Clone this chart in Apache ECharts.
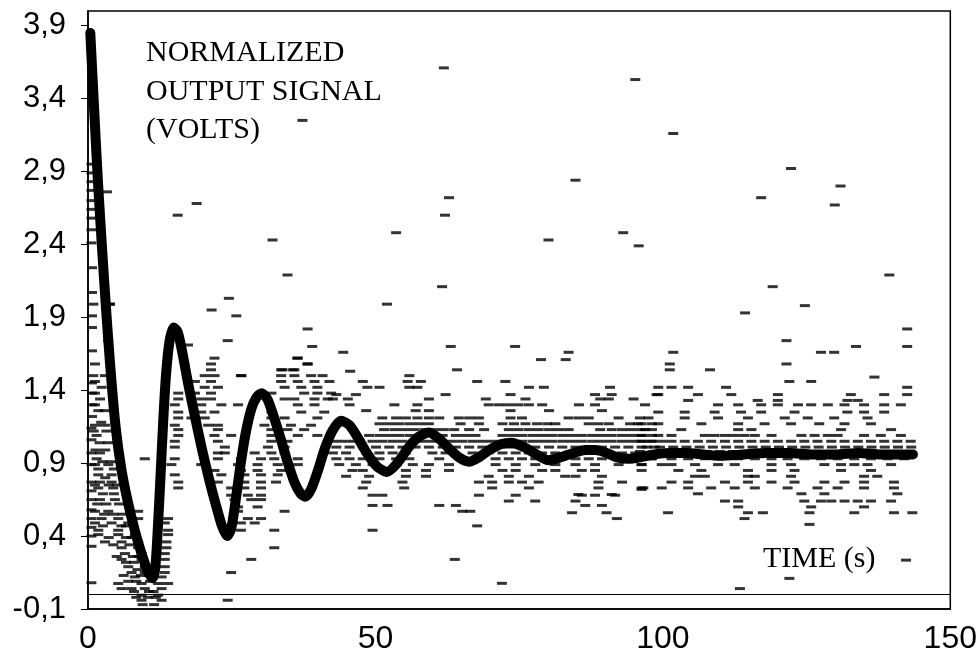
<!DOCTYPE html>
<html><head><meta charset="utf-8">
<script src="https://cdn.jsdelivr.net/npm/echarts@6/dist/echarts.min.js"></script>
<style>html,body{margin:0;padding:0;background:#fff}#c{width:980px;height:658px}</style>
</head><body><div id="c"></div>
<script>
// ---- tick labels ----
const yTicks = [-0.1, 0.4, 0.9, 1.4, 1.9, 2.4, 2.9, 3.4, 3.9];
const xTicks = [0, 50, 100, 150];

// ---- fitted (thick) response curve [time s, volts] ----
const signalCurve = [
 [0.4,3.85],[1.0,3.38],[1.7,2.85],[2.4,2.4],[3.1,1.98],[3.9,1.55],[4.8,1.15],[5.8,0.86],[6.9,0.64],[8.2,0.43],
 [9.4,0.27],[10.4,0.16],[11.2,0.11],[11.7,0.18],[12.1,0.42],[12.6,0.8],[13.1,1.2],[13.6,1.52],[14.2,1.74],[14.9,1.83],
 [15.6,1.8],[16.4,1.66],[17.4,1.45],[18.6,1.22],[19.8,1.0],[21.0,0.8],[22.2,0.62],[23.3,0.47],[24.2,0.40],[24.9,0.45],
 [25.6,0.62],[26.5,0.88],[27.4,1.1],[28.4,1.27],[29.3,1.35],[30.2,1.38],[31.2,1.34],[32.3,1.22],[33.5,1.07],[34.7,0.91],
 [35.9,0.77],[37.0,0.69],[37.8,0.67],[38.8,0.72],[40.0,0.85],[41.2,1.0],[42.5,1.12],[44.0,1.19],[45.5,1.16],[47.0,1.07],
 [48.5,0.97],[50.2,0.88],[52.0,0.84],[53.8,0.9],[55.8,1.01],[57.5,1.08],[59.3,1.11],[61.0,1.07],[62.8,1.0],[64.5,0.94],
 [66.3,0.91],[68.0,0.94],[69.8,0.99],[71.8,1.03],[73.7,1.04],[75.8,1.01],[78.0,0.96],[80.1,0.92],[82.2,0.94],[84.5,0.97],
 [86.5,0.99],[88.3,0.99],[90.2,0.97],[92.0,0.94],[94.0,0.93],[96.0,0.94],[98.5,0.96],[101,0.97],[104,0.97],[107,0.96],
 [110,0.95],[114,0.96],[118,0.97],[122,0.97],[126,0.96],[130,0.96],[134,0.97],[138,0.96],[143.5,0.96]
];

// ---- measured samples (dashes) ----
const leftColumnSamples = [
 [0.6,2.95],[0.6,2.89],[0.6,2.83],[0.6,2.77],[0.6,2.70],[0.6,2.64],[0.6,2.58],[0.6,2.50],[0.6,2.41],[0.7,2.24],
 [0.7,2.07],[0.7,1.91],[0.7,1.83],[0.7,1.67],[0.7,1.45],[0.7,1.38],[0.7,1.30],[0.7,1.22],[0.6,1.14],[0.6,1.06],
 [0.6,0.97],[0.6,0.89],[0.6,0.77],[0.6,0.71],[0.6,0.65],[0.6,0.58],[0.6,0.52],[0.6,0.46],[0.6,0.40],[0.6,0.33],
 [0.6,0.08],[3.3,2.76],[3.8,1.99]
];

const earlyRows = [ // [volts, [times]]
 [1.99,[0.93,3.82]],
 [1.74,[3.5]],
 [1.71,[17.4]],
 [1.62,[22.0,36.5]],
 [1.58,[1.21,21.4,38.2]],
 [1.54,[21.4,33.6,35.6]],
 [1.50,[0.93,2.95,20.3,22.0,26.6,33.6,35.9,38.8,40.8]],
 [1.46,[1.21,18.6,21.4,33.6,36.5,39.4,42.0]],
 [1.42,[2.37,20.3,22.6,34.2,37.1,39.9]],
 [1.38,[1.21,15.7,18.6,21.4,31.9,37.6,39.9,42.3]],
 [1.34,[2.1,15.7,19.7,21.4,34.2,35.9,39.4,41.7]],
 [1.30,[1.21,15.1,19.7,23.2,26.1,36.5,39.4]],
 [1.26,[1.8,2.9]],
 [1.25,[15.7,19.7,22.0,31.9,37.1,41.1]],
 [1.21,[15.7,18.0,20.3,31.9,34.2,39.9]],
 [1.18,[2.3]],
 [1.16,[1.21,2.95,15.1,20.9,22.6,30.7,35.3,38.8]],
 [1.13,[15.7,22.6,31.9,34.7,37.6]],
 [1.12,[1.0,3.2]],
 [1.09,[1.5,15.7,22.0,24.9,31.9,36.5,39.9]],
 [1.05,[15.1,22.6,31.9,34.7]],
 [1.04,[2.0,3.5]],
 [1.01,[15.1,23.8,31.3,34.2]],
 [0.99,[1.3,3.0]],
 [0.97,[2.08,22.6,23.8,29.0,31.9,34.2]],
 [0.93,[1.5,9.88,15.1,22.6,26.6,30.1,32.4,36.5]],
 [0.91,[2.5,4.0]],
 [0.89,[1.21,3.53,14.5,19.7,26.1,29.5,33.0,36.5]],
 [0.86,[1.8,4.5]],
 [0.85,[22.0,26.6,29.5,33.6]],
 [0.82,[1.79,4.1,15.1,23.2,27.2,30.1,33.0]],
 [0.80,[3.0]],
 [0.77,[2.08,4.1,15.7,22.6,27.2,30.1,32.7]],
 [0.75,[1.2,3.6,5.0]],
 [0.73,[1.79,4.39,15.7,24.9,27.2,30.1]],
 [0.69,[2.6,4.5]],
 [0.68,[24.9,27.8,30.1]],
 [0.65,[2.08,4.68,25.5,28.4,30.1]],
 [0.62,[1.6,3.2,5.4]],
 [0.60,[26.1,29.5]],
 [0.57,[1.21,3.53,8.73,26.1,34.2]],
 [0.55,[2.8,4.4,6.0]],
 [0.52,[2.37,5.26,8.73,13.93,27.8,30.1]],
 [0.49,[1.21,4.1,7.0,13.35,26.6,29.0]],
 [0.47,[2.6,5.8,6.6]],
 [0.44,[1.79,5.26,13.93,26.6,32.4]],
 [0.41,[1.79,5.26,8.15,13.93]],
 [0.39,[3.6,6.6,7.6]],
 [0.36,[2.95,5.84,8.73,13.64]],
 [0.34,[4.4,7.2]],
 [0.32,[5.84,8.73,13.64,32.4]],
 [0.28,[6.42,9.31,13.35]],
 [0.26,[5.0,7.8,8.8]],
 [0.24,[5.84,9.31,13.35,28.4]],
 [0.22,[6.6,8.0]],
 [0.19,[7.0,9.88,13.35]],
 [0.17,[8.6]],
 [0.15,[7.57,9.88,13.35,24.9]],
 [0.13,[6.2,9.2,10.6]],
 [0.12,[8.15,12.8]],
 [0.09,[7.0,8.4,10.8]],
 [0.075,[5.26,9.31,12.2,13.93]],
 [0.04,[5.84,7.57,9.88,12.8]],
 [0.02,[8.0,10.6,11.4]],
 [-0.005,[9.31,12.2]],
 [-0.02,[8.4,10.4,11.8]],
 [-0.04,[9.31,12.8,24.3]],
 [-0.07,[9.5,11.5]]
];

const midRows = [
 [1.46,[47.8,55.6,57.9,67.7,72.6]],
 [1.42,[48.6,50.7,55.9,57.3,76.7,79.3,90.8]],
 [1.37,[43.2,46.6,62.2,73.5,88.2,91.1,98.9]],
 [1.34,[42.6,45.2,59.3,69.2,76.1,89.1,90.6,94.9]],
 [1.30,[45.5,53.3,57.3,69.7,71.5,73.2,74.9,76.7,79.0,85.4,88.2]],
 [1.26,[48.4,57.0,59.3,73.5,80.2,89.4]],
 [1.21,[51.2,53.6,55.3,57.3,59.3,61.1,64.5,66.3,68.0,73.5,75.5,83.6,85.4,87.1,92.3,96.0]],
 [1.17,[50.7,52.4,54.1,55.9,57.6,59.3,64.8,68.0,72.1,74.1,76.1,78.1,79.9,81.3,87.1,88.8,90.6,94.3,96.3,98.1]],
 [1.13,[51.5,53.3,55.0,56.7,58.5,60.2,61.9,63.7,66.3,68.9,73.2,74.9,76.7,78.4,80.2,81.9,83.6,89.1,91.1,92.9,94.6,96.3,98.1]],
 [1.09,[48.9,50.7,52.4,54.1,55.9,57.6,59.3,61.7,64.0,65.7,67.4,72.1,73.8,75.5,77.3,79.0,80.7,82.5,84.2,85.9,87.7,89.4,91.1,92.9,94.6,96.3,98.1]],
 [1.05,[42.6,44.3,46.0,49.5,51.2,53.0,54.7,56.5,58.2,59.9,61.7,63.4,65.1,66.9,68.6,70.3,72.1,73.8,75.5,77.3,79.0,80.7,82.5,84.2,85.9,87.7,89.4,91.1,92.9,94.6,96.3,98.1]],
 [1.01,[43.2,45.5,47.8,50.1,52.4,54.7,57.0,59.3,61.7,64.0,66.3,68.6,70.9,73.2,75.5,77.8,80.2,82.5,84.8,87.1,89.4,91.7,94.0,96.3,98.6]],
 [0.97,[42.6,44.9,48.4,50.7,53.0,55.3,59.9,62.2,66.9,69.7,72.1,74.4,76.7,79.0,81.3,83.6,85.9,88.2,90.6,92.9,95.2,97.5]],
 [0.93,[43.2,45.5,47.8,50.7,53.6,55.9,61.1,70.9,73.2,75.5,77.8,80.2,82.5,84.8,87.1,89.4,92.9,95.8,98.1]],
 [0.89,[43.7,46.6,49.5,53.6,56.5,59.3,62.8,70.9,74.4,77.8,81.3,84.8,88.2,92.3,96.3]],
 [0.85,[46.0,47.8,55.3,58.8,62.8,72.1,74.4,79.0,81.3,85.9,88.2,96.3]],
 [0.81,[44.9,48.9,55.3,58.8,69.7,73.2,76.7,83.0,84.8,89.4]],
 [0.77,[48.4,54.7,68.0,70.3,73.2,75.5,78.4,88.8,92.9]],
 [0.73,[47.8,55.0,70.3,76.7,88.8,96.6]],
 [0.68,[49.5,51.2,68.0,74.4,85.9,88.2,91.7]],
 [0.64,[73.2,77.8,84.8]],
 [0.61,[49.5,52.1,61.1,64.0,86.5,89.4]]
];
const midExtra = [
 [49.5,0.44],[63.8,0.24],[72.0,0.076],[67.7,0.47],[65.1,0.57],[66.5,0.57],[84.2,0.56],[90.2,0.56],
 [92.0,0.52],[85.3,0.685],[91.1,0.685],[96.3,0.72]
];

const lateRows = [
 [1.46,[122.0,125.8]],
 [1.42,[99.2,101.5,104.4,111.0,142.5]],
 [1.37,[99.2,106.1,111.9,120.0,132.7,138.5,142.5]],
 [1.33,[104.4,116.5,120.0,132.1,133.9]],
 [1.30,[96.9,109.6,113.1,117.1,120.0,123.5,125.8,128.7,131.6,135.0,138.5,141.4]],
 [1.25,[99.2,103.8,109.0,113.6,117.1,122.9,132.1,135.0,138.5]],
 [1.21,[97.5,103.8,109.6,114.8,121.2,125.2,129.8,135.6]],
 [1.17,[95.7,99.2,106.7,113.1,117.7,122.3,127.2,131.6,136.2]],
 [1.13,[96.9,103.2,113.1,115.4,131.0,139.7]],
 [1.09,[96.3,99.2,101.5,107.3,109.0,110.8,112.5,114.2,116.0,118.9,124.1,126.4,128.7,130.4,135.0,137.9,141.4]],
 [1.05,[96.3,98.0,99.8,101.5,103.8,106.1,108.4,110.8,113.1,115.4,117.7,120.0,122.3,124.6,126.9,129.3,131.6,133.9,136.2,138.5,140.8,143.1]],
 [1.01,[97.2,99.5,101.8,104.1,106.4,108.7,111.0,113.3,115.6,117.9,120.2,122.5,124.8,127.1,129.4,131.7,134.0,136.3,138.6,140.9,143.2]],
 [0.98,[96.0,98.4,100.7,103.0,105.3,107.6,109.9,112.2,114.5,116.8,119.1,121.4,123.7,126.0,128.3,130.6,132.9,135.2,137.5,139.8,142.1]],
 [0.93,[95.7,98.0,101.5,104.4,107.3,109.6,113.1,116.0,118.9,121.7,124.6,127.5,130.4,133.3,136.2,139.1,142.0]],
 [0.89,[96.3,99.8,101.5,105.6,109.6,112.5,118.9,122.3,128.1,131.0,133.3,135.6,139.7]],
 [0.85,[102.7,106.7,114.8,118.9,122.9,131.0,136.2]],
 [0.81,[105.6,107.3,114.8,116.0,122.3,135.0,137.3]],
 [0.77,[101.5,104.4,110.8,114.8,118.9,122.9,128.1,131.6,135.0,140.2]],
 [0.73,[96.3,99.8,104.4,108.4,112.5,116.0,121.7,126.9,130.4,135.0,140.2]],
 [0.69,[106.1,124.1,128.1,140.8]],
 [0.64,[110.8,113.1,124.6,127.5,129.3,131.6,133.9,136.2,139.7]],
 [0.60,[113.1,125.8,135.0]]
];
const lateExtra = [
 [100.9,0.56],[114.2,0.52],[114.8,0.56],[117.4,0.56],[125.5,0.48],[125.5,0.56],[133.3,0.56],[140.2,0.56],
 [143.4,0.56],[113.4,0.04],[122.0,0.11],[142.3,0.235]
];

const outlierSamples = [
 [15.6,2.60],[18.9,2.68],[32.1,2.43],[34.7,2.19],[24.5,2.03],[21.5,1.95],[25.8,1.91],[24.3,1.74],[38.2,1.82],
 [39.0,1.70],[36.4,1.62],[38.2,1.58],[44.4,1.66],[45.6,1.53],[26.7,1.50],[33.8,1.54],[35.9,1.54],
 [37.3,3.25],[61.9,3.61],[95.2,3.53],[101.8,3.16],[84.8,2.84],[62.8,2.72],[62.1,2.60],[53.6,2.48],[80.1,2.43],
 [93.1,2.48],[95.8,2.39],[61.6,2.11],[52.0,1.99],
 [122.3,2.92],[130.9,2.80],[117.1,2.72],[129.9,2.67],[139.4,2.19],[119.1,2.11],[124.7,1.98],[114.3,1.93],
 [63.1,1.70],[74.3,1.70],[83.6,1.66],[78.8,1.61],[83.1,1.61],[64.2,1.54],[55.9,1.50],
 [142.5,1.82],[142.5,1.70],[121.5,1.74],[127.5,1.66],[129.8,1.66],[133.6,1.70],[101.8,1.66],[101.2,1.58],
 [101.2,1.54],[108.2,1.54],[121.5,1.58],[136.8,1.49]
];

function rowsToPoints(rows){ const out=[]; rows.forEach(r=>r[1].forEach(t=>out.push([t,r[0]]))); return out; }
const samplePoints = [].concat(leftColumnSamples, rowsToPoints(earlyRows), rowsToPoints(midRows), midExtra,
  rowsToPoints(lateRows), lateExtra, outlierSamples);

const fmt = v => String(Math.round(v*10)/10).replace('.', ',');
const serif = '30px "Liberation Serif", "Times New Roman", serif';
const chart = echarts.init(document.getElementById('c'), null, {renderer:'canvas'});
chart.setOption({
  animation:false,
  backgroundColor:'#fff',
  grid:{left:88,right:28,top:11,bottom:49,show:true,borderColor:'#000',borderWidth:1.5,backgroundColor:'transparent'},
  xAxis:{type:'value',min:xTicks[0],max:xTicks[xTicks.length-1],interval:50,
    axisLine:{show:true,onZero:false,lineStyle:{color:'#000',width:1.5}},
    axisTick:{show:false},splitLine:{show:false},
    axisLabel:{color:'#000',fontSize:32,fontFamily:'"Liberation Sans", Arial, sans-serif',margin:14}},
  yAxis:{type:'value',min:-0.1,max:4.0,
    axisLine:{show:true,onZero:false,lineStyle:{color:'#000',width:1.5}},
    axisTick:{show:true,length:7,customValues:yTicks,lineStyle:{color:'#000',width:1}},
    splitLine:{show:false},
    axisLabel:{customValues:yTicks,formatter:fmt,color:'#000',fontSize:31,fontFamily:'"Liberation Sans", Arial, sans-serif',margin:22}},
  series:[
    {type:'scatter',data:samplePoints,symbol:'rect',symbolSize:[10,3],itemStyle:{color:'#000'},silent:true,z:2},
    {type:'line',data:signalCurve,showSymbol:false,smooth:0.25,silent:true,z:3,
      lineStyle:{color:'#000',width:10,cap:'round',join:'round'},
      markLine:{silent:true,symbol:['none','none'],label:{show:false},
        lineStyle:{color:'#000',width:1,type:'solid'},data:[{yAxis:0}]}}
  ],
  graphic:[
    {type:'text',x:146,y:53,style:{text:'NORMALIZED',font:serif,fill:'#000',verticalAlign:'middle'}},
    {type:'text',x:146,y:92,style:{text:'OUTPUT SIGNAL',font:serif,fill:'#000',verticalAlign:'middle'}},
    {type:'text',x:146,y:130,style:{text:'(VOLTS)',font:serif,fill:'#000',verticalAlign:'middle'}},
    {type:'text',x:763,y:559,style:{text:'TIME (s)',font:serif,fill:'#000',verticalAlign:'middle'}}
  ]
});
</script></body></html>
